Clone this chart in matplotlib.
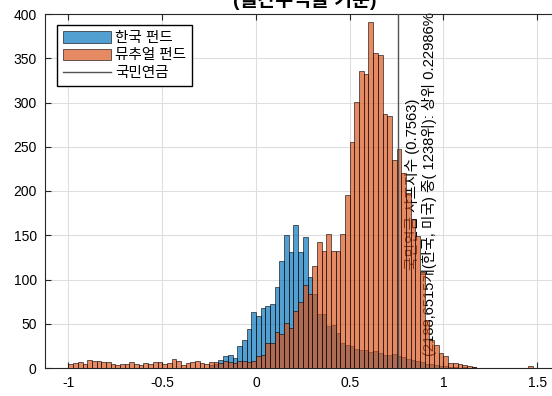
import numpy as np
import matplotlib
matplotlib.use("Agg")
import matplotlib.pyplot as plt

plt.rcParams["font.family"] = ["Liberation Sans", "Noto Sans CJK KR"]

# Sharpe-ratio histograms, bin width 0.025
bin_width = 0.025

mutual_start = -1.0
mutual_counts = [
    4.5, 6, 7, 5, 9, 8, 7.5, 7, 7, 4.5,
    3, 4, 4.5, 6.5, 4, 3.5, 6, 4.5, 7, 7,
    5, 6, 10, 8, 3.5, 6, 7, 8, 6, 5,
    6.5, 7, 6, 7.5, 7, 6, 7.5, 7.5, 7, 8,
    13, 15, 28, 28, 41, 38, 51, 45, 64, 75,
    94, 84, 115, 142, 132, 151, 132, 132, 151, 196,
    255, 301, 336, 332, 391, 356, 354, 287, 285, 235,
    248, 220, 198, 168, 149, 109, 54, 32, 26, 17,
    13, 6, 6, 5, 3, 2, 1, 0, 0, 0,
    0, 0, 0, 0, 0, 0, 0, 0, 2,
]

korea_start = -0.25
korea_counts = [
    3, 5, 9, 13, 15, 11, 25, 32, 44, 63,
    59, 68, 70, 72, 92, 121, 150, 131, 162, 131,
    148, 103, 84, 61, 61, 47, 49, 40, 28, 26,
    25, 22, 20, 20, 18, 19, 17, 15, 15, 16,
    14, 12, 10, 9, 8, 7, 5, 4, 3, 2,
    2, 1, 1, 0, 1, 0, 1,
]

nps_sharpe = 0.7563
series_labels = ["한국 펀드", "뮤추얼 펀드", "국민연금"]
title_text = "(월간수익률 기준)"
note_text = ("국민연금 샤프지수 (0.7563)\n"
             "(2188,6515개(한국, 미국) 중( 1238위): 상위 0.22986%")

x_ticks = [-1, -0.5, 0, 0.5, 1, 1.5]
x_ticklabels = ["-1", "-0.5", "0", "0.5", "1", "1.5"]
y_ticks = [0, 50, 100, 150, 200, 250, 300, 350, 400]

blue = (0.0, 0.447, 0.741)
orange = (0.85, 0.325, 0.098)

W, H = 552, 396
fig = plt.figure(figsize=(W / 100, H / 100), dpi=100)
ax = fig.add_axes([45 / W, 28 / H, 520 / W, 354 / H])

k_edges = korea_start + bin_width * np.arange(len(korea_counts))
m_edges = mutual_start + bin_width * np.arange(len(mutual_counts))

kb = ax.bar(k_edges, korea_counts, width=bin_width, align="edge",
            color=blue, alpha=0.68, edgecolor="black", linewidth=0.6,
            zorder=2, label=series_labels[0])
mb = ax.bar(m_edges, mutual_counts, width=bin_width, align="edge",
            color=orange, alpha=0.68, edgecolor="black", linewidth=0.6,
            zorder=3, label=series_labels[1])
for p in list(kb) + list(mb):
    p.set_edgecolor((0, 0, 0, 0.9))

vl = ax.axvline(nps_sharpe, color=(0.32, 0.32, 0.32), linewidth=1.0,
                zorder=4, label=series_labels[2])

ax.text(0.88, 208, note_text, rotation=90, ha="center", va="center",
        multialignment="center", fontsize=10.6, color="black", zorder=1,
        linespacing=1.2)

ax.set_xlim(-1.125, 1.648)
ax.set_ylim(0, 400)
ax.set_xticks(x_ticks)
ax.set_xticklabels(x_ticklabels)
ax.set_yticks(y_ticks)
ax.tick_params(direction="in", top=True, right=True, labelsize=10,
               length=4, width=0.8, colors=(0.15, 0.15, 0.15),
               labelcolor="black", pad=6)
ax.grid(True, color=(0.87, 0.87, 0.87), linewidth=0.8, zorder=0)
ax.set_axisbelow(True)
for s in ax.spines.values():
    s.set_color((0.15, 0.15, 0.15))
    s.set_linewidth(0.8)

leg = ax.legend(handles=[kb, mb, vl], loc="upper left",
                bbox_to_anchor=(0.023, 0.969), borderaxespad=0,
                fontsize=10.5, handlelength=3.3, handleheight=0.85,
                handletextpad=0.3, labelspacing=0.25, borderpad=0.4,
                fancybox=False, framealpha=1, edgecolor="black")
leg.get_frame().set_linewidth(1.0)

fig.text((45 + 565) / 2 / W, 1 - 6 / H, title_text, ha="center",
         va="baseline", fontsize=14, fontweight="bold")

fig.savefig("out.png", dpi=100)
